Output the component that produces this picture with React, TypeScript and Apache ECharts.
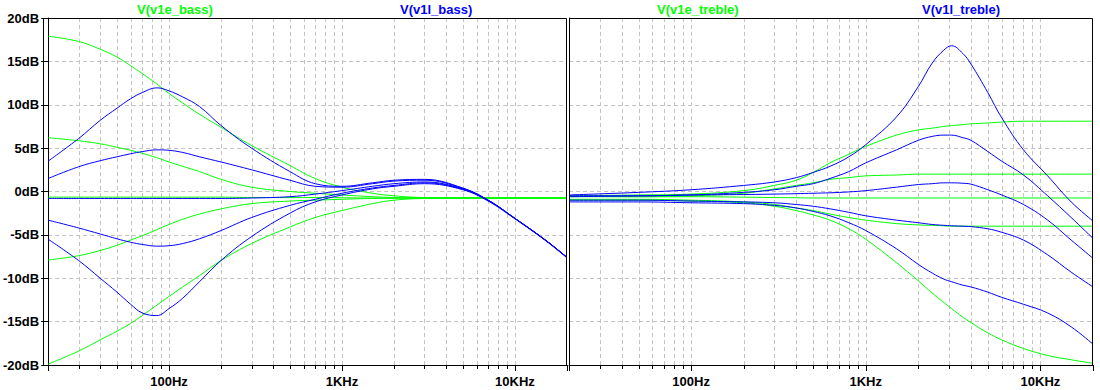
import React, { useEffect, useRef } from "react";
import * as echarts from "echarts";

// ---------- data ----------
const BASS_FREQ = [20, 30, 40, 50, 60, 70, 85, 100, 120, 150, 200, 300, 500, 700, 1000, 1500, 2000, 3000, 5000, 7000, 10000, 15000, 20000];
const V1E_BASS_1 = [17.9, 17.3, 16.4, 15.5, 14.5, 13.6, 12.4, 11.3, 10.2, 8.9, 7.4, 5.3, 3.0, 1.5, 0.5, -0.2, -0.5, -0.7, -0.75, -0.75, -0.75, -0.75, -0.75];
const V1E_BASS_2 = [6.2, 5.85, 5.5, 5.1, 4.75, 4.4, 3.9, 3.4, 2.9, 2.3, 1.4, 0.5, 0.0, -0.2, -0.4, -0.6, -0.7, -0.75, -0.75, -0.75, -0.75, -0.75, -0.75];
const V1E_BASS_3 = [-0.65, -0.65, -0.65, -0.65, -0.65, -0.65, -0.65, -0.65, -0.65, -0.65, -0.65, -0.7, -0.7, -0.7, -0.72, -0.75, -0.75, -0.75, -0.75, -0.75, -0.75, -0.75, -0.75];
const V1E_BASS_4 = [-7.9, -7.4, -6.8, -6.2, -5.6, -5.1, -4.4, -3.8, -3.2, -2.6, -2.0, -1.4, -1.1, -1.0, -0.9, -0.8, -0.78, -0.75, -0.75, -0.75, -0.75, -0.75, -0.75];
const V1E_BASS_5 = [-19.9, -18.4, -17.1, -16.1, -15.2, -14.3, -13.1, -12.1, -11.0, -9.7, -7.95, -6.0, -4.1, -3.0, -2.2, -1.4, -1.0, -0.8, -0.75, -0.75, -0.75, -0.75, -0.75];

const V1L_BASS_1 = [3.5, 6.1, 8.2, 9.6, 10.7, 11.4, 11.95, 11.6, 10.9, 9.8, 7.6, 5.0, 2.3, 0.9, 0.6, 1.0, 1.3, 1.4, 0.4, -1.0, -3.1, -5.6, -7.6];
const V1L_BASS_2 = [1.5, 2.85, 3.55, 4.0, 4.35, 4.6, 4.8, 4.75, 4.5, 4.0, 3.4, 2.5, 1.3, 0.6, 0.5, 0.9, 1.2, 1.3, 0.35, -1.0, -3.1, -5.6, -7.6];
const V1L_BASS_3 = [-0.8, -0.8, -0.8, -0.8, -0.8, -0.8, -0.8, -0.8, -0.8, -0.8, -0.8, -0.75, -0.6, -0.3, 0.1, 0.6, 0.9, 1.1, 0.3, -1.0, -3.1, -5.6, -7.6];
const V1L_BASS_4 = [-3.3, -4.2, -4.9, -5.45, -5.85, -6.1, -6.3, -6.25, -6.0, -5.45, -4.5, -3.0, -1.6, -0.9, -0.2, 0.4, 0.7, 1.0, 0.25, -1.05, -3.1, -5.6, -7.6];
const V1L_BASS_5 = [-5.5, -7.95, -10.0, -11.6, -13.0, -14.0, -14.3, -13.5, -12.3, -10.4, -7.95, -5.2, -2.5, -1.2, -0.4, 0.3, 0.6, 0.9, 0.2, -1.1, -3.15, -5.65, -7.65];

const TREBLE_FREQ = [20, 50, 100, 200, 300, 400, 500, 624, 800, 1000, 1500, 2000, 2400, 2800, 3100, 3600, 4000, 5000, 6000, 8000, 11000, 15000, 20000];
const V1E_TREBLE_1 = [-0.5, -0.4, -0.3, 0.1, 0.7, 1.3, 2.2, 3.3, 4.3, 5.2, 6.5, 7.1, 7.3, 7.5, 7.6, 7.7, 7.8, 7.9, 8.0, 8.1, 8.1, 8.1, 8.1];
const V1E_TREBLE_2 = [-0.6, -0.6, -0.5, -0.2, 0.3, 0.7, 1.0, 1.4, 1.6, 1.8, 1.9, 2.0, 2.0, 2.0, 2.0, 2.0, 2.0, 2.0, 2.0, 2.0, 2.0, 2.0, 2.0];
const V1E_TREBLE_3 = [-0.55, -0.6, -0.6, -0.65, -0.7, -0.72, -0.75, -0.75, -0.75, -0.75, -0.75, -0.75, -0.75, -0.75, -0.75, -0.75, -0.75, -0.75, -0.75, -0.75, -0.75, -0.75, -0.75];
const V1E_TREBLE_4 = [-0.9, -0.9, -1.0, -1.2, -1.5, -1.9, -2.2, -2.6, -3.0, -3.3, -3.7, -3.85, -3.9, -3.95, -4.0, -4.0, -4.0, -4.0, -4.0, -4.0, -4.0, -4.0, -4.0];
const V1E_TREBLE_5 = [-1.0, -1.0, -1.1, -1.3, -1.7, -2.2, -2.7, -3.3, -4.3, -5.5, -8.2, -10.3, -11.7, -12.8, -13.5, -14.5, -15.1, -16.3, -17.1, -18.1, -18.9, -19.4, -19.8];

const V1L_TREBLE_1 = [-0.4, -0.1, 0.2, 0.7, 1.1, 1.6, 2.2, 2.9, 4.0, 5.4, 8.6, 12.1, 14.8, 16.3, 16.8, 15.9, 14.7, 11.4, 8.5, 4.8, 1.8, -1.2, -3.4];
const V1L_TREBLE_2 = [-0.6, -0.5, -0.4, -0.1, 0.2, 0.6, 0.9, 1.5, 2.3, 3.3, 4.8, 5.9, 6.35, 6.5, 6.5, 6.2, 5.9, 4.6, 3.5, 1.9, -0.5, -3.0, -5.4];
const V1L_TREBLE_3 = [-0.5, -0.5, -0.4, -0.35, -0.3, -0.25, -0.2, -0.15, -0.05, 0.1, 0.5, 0.8, 0.9, 1.0, 1.0, 0.95, 0.85, 0.2, -0.4, -1.5, -3.3, -5.6, -7.7];
const V1L_TREBLE_4 = [-1.0, -1.0, -1.1, -1.2, -1.3, -1.5, -1.7, -2.0, -2.4, -2.8, -3.3, -3.6, -3.8, -3.9, -3.95, -4.0, -4.05, -4.3, -4.7, -5.6, -7.3, -9.3, -11.0];
const V1L_TREBLE_5 = [-1.2, -1.2, -1.3, -1.4, -1.6, -1.9, -2.3, -2.8, -3.6, -4.5, -6.6, -8.4, -9.4, -10.1, -10.4, -10.8, -11.0, -11.6, -12.2, -13.0, -14.0, -15.6, -17.6];

const X_TICKS = [100, 1000, 10000];
const X_TICK_LABELS = ["100Hz", "1KHz", "10KHz"];
const MINOR_FREQ = [30, 40, 50, 60, 70, 80, 90, 200, 300, 400, 500, 600, 700, 800, 900, 2000, 3000, 4000, 5000, 6000, 7000, 8000, 9000];
const Y_MIN = -20;
const Y_MAX = 20;
const Y_STEP = 5;

const TITLES = [
  { text: "V(v1e_bass)", color: "#00ff00", x: 137 },
  { text: "V(v1l_bass)", color: "#0000ff", x: 400 },
  { text: "V(v1e_treble)", color: "#00ff00", x: 657 },
  { text: "V(v1l_treble)", color: "#0000ff", x: 922 },
];

const GREEN = "#00ff00";
const BLUE = "#0000ff";
const FONT = "Liberation Sans, Arial, sans-serif";

const zip = (xs: number[], ys: number[]) => xs.map((x, i) => [x, ys[i]]);

export default function App() {
  const ref = useRef<HTMLDivElement>(null);
  useEffect(() => {
    if (!ref.current) return;
    const chart = echarts.init(ref.current, undefined, { renderer: "svg" });

    const grids = [
      { left: 43, top: 18, width: 524, height: 347 },
      { left: 569, top: 18, width: 524, height: 347 },
    ];

    const xLabel = (v: number) => {
      for (let i = 0; i < X_TICKS.length; i++) {
        if (Math.abs(v - X_TICKS[i]) / X_TICKS[i] < 1e-6) return X_TICK_LABELS[i];
      }
      return "";
    };

    const xAxes = [0, 1].map((g) => ({
      type: "log",
      logBase: 10,
      gridIndex: g,
      min: 20,
      max: 20000,
      axisLine: { show: true, onZero: false, lineStyle: { color: "#000", width: 1 } },
      axisTick: { show: true, length: 6, lineStyle: { color: "#000" } },
      axisLabel: {
        formatter: xLabel,
        color: "#000",
        fontWeight: "bold",
        fontSize: 13,
        fontFamily: FONT,
        margin: 10,
      },
      splitLine: {
        show: true,
        showMinLine: false,
        showMaxLine: false,
        lineStyle: { color: "#c4c4c4", type: [4, 3], width: 1 },
      },
    }));

    const yAxes = [0, 1].map((g) => ({
      type: "value",
      gridIndex: g,
      min: Y_MIN,
      max: Y_MAX,
      interval: Y_STEP,
      axisLine: { show: true, onZero: false, lineStyle: { color: "#000", width: 1 } },
      axisTick: { show: g === 0, length: 7, lineStyle: { color: "#000" } },
      axisLabel: {
        show: g === 0,
        formatter: (v: number) => `${v}dB`,
        color: "#000",
        fontWeight: "bold",
        fontSize: 13,
        fontFamily: FONT,
        margin: 9,
      },
      splitLine: {
        show: true,
        showMinLine: false,
        showMaxLine: false,
        lineStyle: { color: "#c4c4c4", type: [4, 3], width: 1 },
      },
    }));

    const minorSeries = [0, 1].map((g) => ({
      type: "custom",
      xAxisIndex: g,
      yAxisIndex: g,
      silent: true,
      z: 1,
      data: MINOR_FREQ.map((f) => [f, 0]),
      renderItem: (params: any, api: any) => {
        const f = api.value(0);
        const top = api.coord([f, Y_MAX]);
        const bot = api.coord([f, Y_MIN]);
        const x = Math.round(top[0]) + 0.5;
        return {
          type: "group",
          children: [
            {
              type: "line",
              shape: { x1: x, y1: top[1], x2: x, y2: bot[1] },
              style: { stroke: "#c4c4c4", lineWidth: 1, lineDash: [4, 3] },
            },
            {
              type: "line",
              shape: { x1: x, y1: bot[1], x2: x, y2: bot[1] + 4 },
              style: { stroke: "#000", lineWidth: 1 },
            },
          ],
        };
      },
    }));

    const mk = (g: number, xs: number[], ys: number[], color: string) => ({
      type: "line",
      xAxisIndex: g,
      yAxisIndex: g,
      data: zip(xs, ys),
      showSymbol: false,
      smooth: 0.4,
      z: 3,
      lineStyle: { color, width: 1 },
      itemStyle: { color },
      silent: true,
    });

    const series: any[] = [
      ...minorSeries,
      mk(0, BASS_FREQ, V1E_BASS_1, GREEN),
      mk(0, BASS_FREQ, V1E_BASS_2, GREEN),
      mk(0, BASS_FREQ, V1E_BASS_3, GREEN),
      mk(0, BASS_FREQ, V1E_BASS_4, GREEN),
      mk(0, BASS_FREQ, V1E_BASS_5, GREEN),
      mk(0, BASS_FREQ, V1L_BASS_1, BLUE),
      mk(0, BASS_FREQ, V1L_BASS_2, BLUE),
      mk(0, BASS_FREQ, V1L_BASS_3, BLUE),
      mk(0, BASS_FREQ, V1L_BASS_4, BLUE),
      mk(0, BASS_FREQ, V1L_BASS_5, BLUE),
      mk(1, TREBLE_FREQ, V1E_TREBLE_1, GREEN),
      mk(1, TREBLE_FREQ, V1E_TREBLE_2, GREEN),
      mk(1, TREBLE_FREQ, V1E_TREBLE_3, GREEN),
      mk(1, TREBLE_FREQ, V1E_TREBLE_4, GREEN),
      mk(1, TREBLE_FREQ, V1E_TREBLE_5, GREEN),
      mk(1, TREBLE_FREQ, V1L_TREBLE_1, BLUE),
      mk(1, TREBLE_FREQ, V1L_TREBLE_2, BLUE),
      mk(1, TREBLE_FREQ, V1L_TREBLE_3, BLUE),
      mk(1, TREBLE_FREQ, V1L_TREBLE_4, BLUE),
      mk(1, TREBLE_FREQ, V1L_TREBLE_5, BLUE),
    ];

    const graphic: any[] = [
      ...grids.map((g) => ({
        type: "rect",
        z: 100,
        silent: true,
        shape: { x: g.left + 0.5, y: g.top + 0.5, width: g.width - 1, height: g.height },
        style: { fill: "none", stroke: "#000", lineWidth: 1 },
      })),
      ...TITLES.map((t) => ({
        type: "text",
        z: 100,
        x: t.x,
        y: 9,
        style: {
          text: t.text,
          fill: t.color,
          font: `bold 13px ${FONT}`,
          textAlign: "left",
          textVerticalAlign: "middle",
        },
      })),
    ];

    chart.setOption({
      animation: false,
      backgroundColor: "#fff",
      grid: grids.map((g) => ({ ...g, show: false })),
      xAxis: xAxes,
      yAxis: yAxes,
      series,
      graphic,
    });
    return () => chart.dispose();
  }, []);
  return (
    <div
      ref={ref}
      style={{ position: "fixed", left: 0, top: 0, width: 1100, height: 390, background: "#fff" }}
    />
  );
}
